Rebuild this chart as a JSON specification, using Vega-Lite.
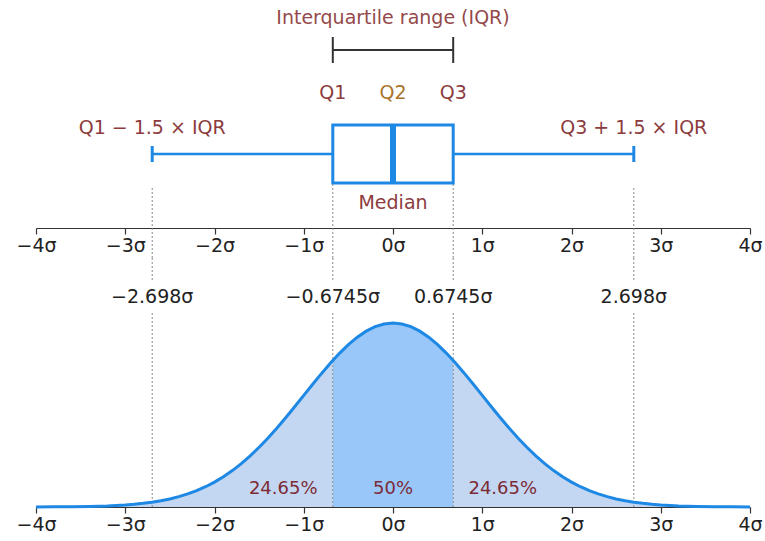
{
  "$schema": "https://vega.github.io/schema/vega-lite/v6.json",
  "padding": {"left": 15, "right": 2, "top": 0, "bottom": 2},
  "background": "white",
  "config": {
    "view": {"stroke": null},
    "font": "DejaVu Sans",
    "axis": {"grid": false, "domainColor": "#333333", "tickColor": "#333333", "labelColor": "#222222", "labelFont": "DejaVu Sans", "labelFontSize": 19, "tickSize": 6, "labelPadding": 2, "domainWidth": 1.2, "tickWidth": 1.2, "labelFlush": false, "title": null}
  },
  "datasets": {
    "stats": [{"lower": -2.698, "q1": -0.6745, "median": 0, "q3": 0.6745, "upper": 2.698}],
    "marks": [{"pos": -2.698}, {"pos": -0.6745}, {"pos": 0.6745}, {"pos": 2.698}],
    "curve": [
      {"x": -4.0, "density": 0.000134, "region": "left"},
      {"x": -3.8, "density": 0.000292, "region": "left"},
      {"x": -3.6, "density": 0.000612, "region": "left"},
      {"x": -3.4, "density": 0.001232, "region": "left"},
      {"x": -3.2, "density": 0.002384, "region": "left"},
      {"x": -3.0, "density": 0.004432, "region": "left"},
      {"x": -2.9, "density": 0.005953, "region": "left"},
      {"x": -2.8, "density": 0.007915, "region": "left"},
      {"x": -2.7, "density": 0.010421, "region": "left"},
      {"x": -2.6, "density": 0.013583, "region": "left"},
      {"x": -2.5, "density": 0.017528, "region": "left"},
      {"x": -2.4, "density": 0.022395, "region": "left"},
      {"x": -2.3, "density": 0.028327, "region": "left"},
      {"x": -2.2, "density": 0.035475, "region": "left"},
      {"x": -2.1, "density": 0.043984, "region": "left"},
      {"x": -2.0, "density": 0.053991, "region": "left"},
      {"x": -1.9, "density": 0.065616, "region": "left"},
      {"x": -1.8, "density": 0.07895, "region": "left"},
      {"x": -1.7, "density": 0.094049, "region": "left"},
      {"x": -1.6, "density": 0.110921, "region": "left"},
      {"x": -1.5, "density": 0.129518, "region": "left"},
      {"x": -1.4, "density": 0.149727, "region": "left"},
      {"x": -1.3, "density": 0.171369, "region": "left"},
      {"x": -1.2, "density": 0.194186, "region": "left"},
      {"x": -1.1, "density": 0.217852, "region": "left"},
      {"x": -1.0, "density": 0.241971, "region": "left"},
      {"x": -0.9, "density": 0.266085, "region": "left"},
      {"x": -0.8, "density": 0.289692, "region": "left"},
      {"x": -0.7, "density": 0.312254, "region": "left"},
      {"x": -0.6745, "density": 0.317777, "region": "left"},
      {"x": -0.6745, "density": 0.317777, "region": "middle"},
      {"x": -0.6, "density": 0.333225, "region": "middle"},
      {"x": -0.5, "density": 0.352065, "region": "middle"},
      {"x": -0.4, "density": 0.36827, "region": "middle"},
      {"x": -0.3, "density": 0.381388, "region": "middle"},
      {"x": -0.2, "density": 0.391043, "region": "middle"},
      {"x": -0.1, "density": 0.396953, "region": "middle"},
      {"x": 0.0, "density": 0.398942, "region": "middle"},
      {"x": 0.1, "density": 0.396953, "region": "middle"},
      {"x": 0.2, "density": 0.391043, "region": "middle"},
      {"x": 0.3, "density": 0.381388, "region": "middle"},
      {"x": 0.4, "density": 0.36827, "region": "middle"},
      {"x": 0.5, "density": 0.352065, "region": "middle"},
      {"x": 0.6, "density": 0.333225, "region": "middle"},
      {"x": 0.6745, "density": 0.317777, "region": "middle"},
      {"x": 0.6745, "density": 0.317777, "region": "right"},
      {"x": 0.7, "density": 0.312254, "region": "right"},
      {"x": 0.8, "density": 0.289692, "region": "right"},
      {"x": 0.9, "density": 0.266085, "region": "right"},
      {"x": 1.0, "density": 0.241971, "region": "right"},
      {"x": 1.1, "density": 0.217852, "region": "right"},
      {"x": 1.2, "density": 0.194186, "region": "right"},
      {"x": 1.3, "density": 0.171369, "region": "right"},
      {"x": 1.4, "density": 0.149727, "region": "right"},
      {"x": 1.5, "density": 0.129518, "region": "right"},
      {"x": 1.6, "density": 0.110921, "region": "right"},
      {"x": 1.7, "density": 0.094049, "region": "right"},
      {"x": 1.8, "density": 0.07895, "region": "right"},
      {"x": 1.9, "density": 0.065616, "region": "right"},
      {"x": 2.0, "density": 0.053991, "region": "right"},
      {"x": 2.1, "density": 0.043984, "region": "right"},
      {"x": 2.2, "density": 0.035475, "region": "right"},
      {"x": 2.3, "density": 0.028327, "region": "right"},
      {"x": 2.4, "density": 0.022395, "region": "right"},
      {"x": 2.5, "density": 0.017528, "region": "right"},
      {"x": 2.6, "density": 0.013583, "region": "right"},
      {"x": 2.7, "density": 0.010421, "region": "right"},
      {"x": 2.8, "density": 0.007915, "region": "right"},
      {"x": 2.9, "density": 0.005953, "region": "right"},
      {"x": 3.0, "density": 0.004432, "region": "right"},
      {"x": 3.2, "density": 0.002384, "region": "right"},
      {"x": 3.4, "density": 0.001232, "region": "right"},
      {"x": 3.6, "density": 0.000612, "region": "right"},
      {"x": 3.8, "density": 0.000292, "region": "right"},
      {"x": 4.0, "density": 0.000134, "region": "right"}
    ]
  },
  "bounds": "flush",
  "spacing": 30,
  "vconcat": [
    {
      "width": 714,
      "height": 228,
      "encoding": {
        "x": {"type": "quantitative", "scale": {"domain": [-4, 4], "nice": false, "zero": false},
          "axis": {"values": [-4, -3, -2, -1, 0, 1, 2, 3, 4], "labelExpr": "(datum.value < 0 ? '−' + abs(datum.value) : datum.value) + 'σ'"}}
      },
      "layer": [
        {
          "data": {"name": "marks"},
          "transform": [{"filter": "abs(datum.pos) > 2"}],
          "mark": {"type": "rule", "strokeDash": [2, 2], "color": "#8a8a8a", "strokeWidth": 1, "clip": false},
          "encoding": {"x": {"field": "pos", "type": "quantitative"}, "y": {"value": 188}, "y2": {"value": 258}}
        },
        {
          "data": {"name": "marks"},
          "transform": [{"filter": "abs(datum.pos) < 2"}],
          "mark": {"type": "rule", "strokeDash": [2, 2], "color": "#8a8a8a", "strokeWidth": 1, "clip": false},
          "encoding": {"x": {"field": "pos", "type": "quantitative"}, "y": {"value": 184}, "y2": {"value": 258}}
        },
        {
          "data": {"name": "stats"},
          "mark": {"type": "rule", "color": "#333333", "strokeWidth": 2},
          "encoding": {"x": {"field": "q1", "type": "quantitative"}, "x2": {"field": "q3"}, "y": {"value": 50}}
        },
        {
          "data": {"name": "marks"},
          "transform": [{"filter": "abs(datum.pos) < 2"}],
          "mark": {"type": "rule", "color": "#333333", "strokeWidth": 2},
          "encoding": {"x": {"field": "pos", "type": "quantitative"}, "y": {"value": 37}, "y2": {"value": 63}}
        },
        {
          "data": {"values": [{"pos": 0, "label": "Interquartile range (IQR)"}]},
          "mark": {"type": "text", "fontSize": 19, "color": "#944a4b", "baseline": "middle"},
          "encoding": {"x": {"field": "pos", "type": "quantitative"}, "y": {"value": 18}, "text": {"field": "label"}}
        },
        {
          "data": {"values": [{"pos": -0.6745, "label": "Q1"}, {"pos": 0.6745, "label": "Q3"}]},
          "mark": {"type": "text", "fontSize": 19, "color": "#8c3c3e", "baseline": "middle"},
          "encoding": {"x": {"field": "pos", "type": "quantitative"}, "y": {"value": 93}, "text": {"field": "label"}}
        },
        {
          "data": {"values": [{"pos": 0, "label": "Q2"}]},
          "mark": {"type": "text", "fontSize": 19, "color": "#a8742c", "baseline": "middle"},
          "encoding": {"x": {"field": "pos", "type": "quantitative"}, "y": {"value": 93}, "text": {"field": "label"}}
        },
        {
          "data": {"values": [{"pos": -2.698, "label": "Q1 − 1.5 × IQR"}, {"pos": 2.698, "label": "Q3 + 1.5 × IQR"}]},
          "mark": {"type": "text", "fontSize": 19, "color": "#8c3c3e", "baseline": "middle"},
          "encoding": {"x": {"field": "pos", "type": "quantitative"}, "y": {"value": 128}, "text": {"field": "label"}}
        },
        {
          "data": {"name": "stats"},
          "mark": {"type": "rule", "color": "#1e88e5", "strokeWidth": 2.5},
          "encoding": {"x": {"field": "lower", "type": "quantitative"}, "x2": {"field": "q1"}, "y": {"value": 154}}
        },
        {
          "data": {"name": "stats"},
          "mark": {"type": "rule", "color": "#1e88e5", "strokeWidth": 2.5},
          "encoding": {"x": {"field": "q3", "type": "quantitative"}, "x2": {"field": "upper"}, "y": {"value": 154}}
        },
        {
          "data": {"name": "marks"},
          "transform": [{"filter": "abs(datum.pos) > 2"}],
          "mark": {"type": "rule", "color": "#1e88e5", "strokeWidth": 3},
          "encoding": {"x": {"field": "pos", "type": "quantitative"}, "y": {"value": 146}, "y2": {"value": 162}}
        },
        {
          "data": {"name": "stats"},
          "mark": {"type": "rect", "fill": "white", "stroke": "#1e88e5", "strokeWidth": 3},
          "encoding": {"x": {"field": "q1", "type": "quantitative"}, "x2": {"field": "q3"}, "y": {"value": 125}, "y2": {"value": 183}}
        },
        {
          "data": {"name": "stats"},
          "mark": {"type": "rule", "color": "#1e88e5", "strokeWidth": 6},
          "encoding": {"x": {"field": "median", "type": "quantitative"}, "y": {"value": 125}, "y2": {"value": 183}}
        },
        {
          "data": {"values": [{"pos": 0, "label": "Median"}]},
          "mark": {"type": "text", "fontSize": 19, "color": "#8c3c3e", "baseline": "middle"},
          "encoding": {"x": {"field": "pos", "type": "quantitative"}, "y": {"value": 203}, "text": {"field": "label"}}
        }
      ]
    },
    {
      "width": 714,
      "height": 249,
      "encoding": {
        "x": {"type": "quantitative", "scale": {"domain": [-4, 4], "nice": false, "zero": false},
          "axis": {"values": [-4, -3, -2, -1, 0, 1, 2, 3, 4], "labelExpr": "(datum.value < 0 ? '−' + abs(datum.value) : datum.value) + 'σ'"}}
      },
      "layer": [
        {
          "data": {"name": "curve"},
          "transform": [{"filter": "datum.region !== 'middle'"}],
          "mark": {"type": "area", "color": "#c3d7f2", "opacity": 1},
          "encoding": {
            "x": {"field": "x", "type": "quantitative"},
            "y": {"field": "density", "type": "quantitative", "stack": null, "scale": {"domain": [0, 0.54], "nice": false}, "axis": null},
            "detail": {"field": "region", "type": "nominal"}
          }
        },
        {
          "data": {"name": "curve"},
          "transform": [{"filter": "datum.region === 'middle'"}],
          "mark": {"type": "area", "color": "#99c7fa", "opacity": 1},
          "encoding": {
            "x": {"field": "x", "type": "quantitative"},
            "y": {"field": "density", "type": "quantitative", "stack": null}
          }
        },
        {
          "data": {"name": "marks"},
          "mark": {"type": "rule", "strokeDash": [2, 2], "color": "#8a8a8a", "strokeWidth": 1, "clip": false},
          "encoding": {"x": {"field": "pos", "type": "quantitative"}, "y": {"value": 0}, "y2": {"value": 23}}
        },
        {
          "data": {"name": "marks"},
          "mark": {"type": "rule", "strokeDash": [2, 2], "color": "#8a8a8a", "strokeWidth": 1, "clip": false},
          "encoding": {"x": {"field": "pos", "type": "quantitative"}, "y": {"value": 55}, "y2": {"value": 249}}
        },
        {
          "data": {"name": "curve"},
          "mark": {"type": "line", "color": "#1e88e5", "strokeWidth": 3},
          "encoding": {
            "x": {"field": "x", "type": "quantitative"},
            "y": {"field": "density", "type": "quantitative"},
            "order": {"field": "x", "type": "quantitative"}
          }
        },
        {
          "data": {"values": [{"pos": -2.698, "label": "−2.698σ"}, {"pos": -0.6745, "label": "−0.6745σ"}, {"pos": 0.6745, "label": "0.6745σ"}, {"pos": 2.698, "label": "2.698σ"}]},
          "mark": {"type": "text", "fontSize": 19, "color": "#222222", "baseline": "middle"},
          "encoding": {"x": {"field": "pos", "type": "quantitative"}, "y": {"value": 39}, "text": {"field": "label"}}
        },
        {
          "data": {"values": [{"pos": -1.23, "label": "24.65%"}, {"pos": 0, "label": "50%"}, {"pos": 1.23, "label": "24.65%"}]},
          "mark": {"type": "text", "fontSize": 18, "color": "#7d2b36", "baseline": "middle"},
          "encoding": {"x": {"field": "pos", "type": "quantitative"}, "y": {"value": 231}, "text": {"field": "label"}}
        }
      ]
    }
  ]
}
